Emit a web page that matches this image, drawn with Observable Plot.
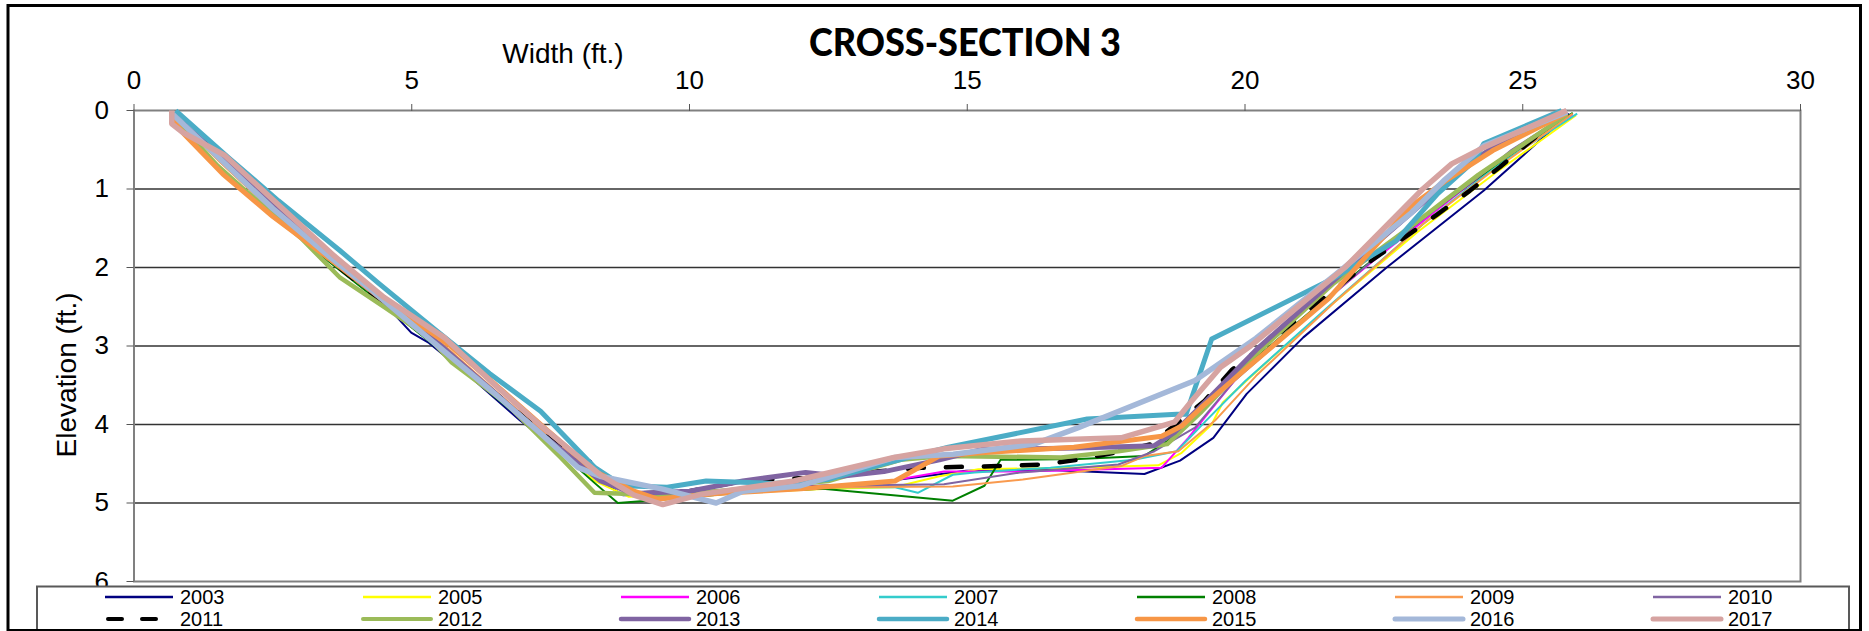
<!DOCTYPE html>
<html>
<head>
<meta charset="utf-8">
<script src="https://cdn.jsdelivr.net/npm/d3@7"></script>
<script src="https://cdn.jsdelivr.net/npm/@observablehq/plot@0.6"></script>
<style>
  html, body { margin: 0; padding: 0; background: #fff; }
  #chart { position: relative; width: 1869px; height: 631px; overflow: hidden; background: #fff; }
  #overlay { position: absolute; left: 0; top: 0; pointer-events: none; }
</style>
</head>
<body>
<div id="chart"></div>
<script>
// ---------------- DATA ----------------
const chartTitle = "CROSS-SECTION 3";
const xLabel = "Width (ft.)";
const yLabel = "Elevation (ft.)";
const xTicks = [0, 5, 10, 15, 20, 25, 30];
const yTicks = [0, 1, 2, 3, 4, 5, 6];
const gridY = [1, 2, 3, 4, 5];
const years = ["2003","2005","2006","2007","2008","2009","2010","2011","2012","2013","2014","2015","2016","2017"];

// [width ft, elevation ft] points per survey year
const s2003 = [[0.72,0.05],[1.6,0.62],[2.5,1.3],[3.4,1.85],[4.35,2.34],[4.99,2.83],[5.31,2.96],[6.1,3.42],[6.95,3.95],[7.6,4.3],[8.22,4.46],[8.4,4.72],[8.8,4.9],[10.0,4.88],[11.5,4.8],[13.13,4.76],[14.98,4.59],[16.5,4.58],[18.19,4.63],[18.83,4.46],[19.43,4.17],[20.03,3.61],[21.05,2.89],[22.55,2.0],[24.3,1.02],[25.2,0.45],[25.84,0.04]];
const s2005 = [[0.7,0.05],[1.65,0.62],[2.45,1.2],[3.6,1.95],[4.6,2.5],[5.55,3.02],[6.5,3.6],[7.3,4.1],[8.3,4.72],[8.9,4.92],[10.5,4.88],[12.5,4.82],[13.68,4.8],[14.5,4.66],[15.2,4.57],[17.0,4.55],[18.44,4.52],[18.86,4.36],[19.4,4.0],[19.6,3.72],[20.4,3.2],[21.6,2.45],[23.1,1.55],[24.5,0.8],[25.96,0.06]];
const s2006 = [[0.7,0.04],[1.6,0.6],[2.4,1.15],[3.5,1.9],[4.5,2.45],[5.5,3.0],[6.5,3.62],[7.3,4.1],[8.4,4.68],[9.0,4.9],[10.5,4.86],[12.5,4.78],[13.6,4.72],[14.58,4.6],[16.0,4.6],[18.5,4.55],[18.98,4.17],[19.81,3.44],[20.8,2.8],[22.3,1.92],[23.9,1.02],[25.0,0.45],[25.9,0.05]];
const s2007 = [[0.72,0.04],[1.62,0.6],[2.45,1.18],[3.55,1.9],[4.55,2.48],[5.5,3.0],[6.5,3.6],[7.3,4.08],[8.45,4.7],[9.2,4.9],[10.5,4.86],[12.5,4.8],[13.7,4.8],[14.11,4.87],[14.74,4.64],[15.13,4.61],[16.5,4.55],[18.0,4.45],[18.77,4.34],[19.3,3.95],[20.0,3.45],[21.5,2.5],[23.2,1.45],[24.5,0.72],[25.98,0.04]];
const s2008 = [[0.7,0.05],[1.6,0.62],[2.4,1.2],[3.5,1.92],[4.5,2.48],[5.45,3.02],[6.5,3.65],[7.3,4.12],[8.3,4.75],[8.71,5.0],[10.0,4.93],[11.0,4.86],[12.4,4.82],[14.74,4.97],[15.31,4.78],[15.6,4.45],[17.0,4.44],[18.19,4.4],[18.6,4.21],[19.3,3.72],[20.2,3.15],[21.7,2.25],[23.3,1.32],[24.6,0.65],[25.9,0.03]];
const s2009 = [[0.7,0.06],[1.55,0.66],[2.4,1.22],[3.5,1.9],[4.55,2.45],[5.6,3.0],[6.55,3.6],[7.35,4.08],[8.4,4.7],[9.3,4.92],[10.5,4.86],[12.5,4.8],[14.74,4.79],[16.0,4.7],[17.77,4.53],[18.2,4.4],[18.8,4.34],[19.46,3.95],[20.2,3.38],[21.6,2.45],[23.2,1.45],[24.4,0.8],[25.9,0.04]];
const s2010 = [[0.7,0.05],[1.6,0.63],[2.45,1.2],[3.5,1.9],[4.5,2.45],[5.5,3.0],[6.5,3.62],[7.3,4.1],[8.4,4.7],[9.2,4.92],[10.5,4.85],[12.5,4.78],[14.58,4.76],[15.97,4.61],[17.72,4.51],[18.37,4.34],[19.1,4.04],[19.8,3.45],[21.2,2.58],[22.8,1.6],[24.2,0.85],[24.8,0.5],[25.8,0.05]];
const s2011 = [[0.7,0.05],[1.6,0.63],[2.45,1.2],[3.55,1.92],[4.5,2.45],[5.5,3.0],[6.5,3.6],[7.3,4.08],[8.4,4.68],[9.0,4.88],[10.0,4.85],[10.96,4.72],[12.09,4.68],[13.0,4.62],[14.18,4.55],[15.55,4.53],[16.35,4.51],[16.99,4.45],[17.65,4.36],[18.32,4.25],[19.27,3.7],[19.77,3.3],[20.6,2.85],[22.2,1.95],[23.47,1.32],[24.05,1.02],[24.59,0.72],[25.09,0.42],[25.7,0.06]];
const s2012 = [[0.7,0.08],[1.5,0.7],[1.94,0.98],[3.0,1.62],[3.71,2.13],[4.5,2.5],[5.31,2.89],[5.72,3.21],[6.68,3.72],[7.68,4.42],[8.29,4.87],[8.69,4.88],[9.5,4.9],[11.0,4.82],[12.5,4.72],[13.8,4.45],[14.58,4.4],[16.69,4.42],[17.72,4.34],[18.6,4.25],[19.2,3.85],[20.2,3.1],[21.6,2.2],[22.96,1.49],[24.2,0.82],[25.8,0.05]];
const s2013 = [[0.7,0.05],[1.6,0.62],[2.5,1.2],[3.6,1.92],[4.45,2.4],[5.5,2.98],[6.5,3.6],[7.3,4.1],[8.4,4.72],[9.0,4.88],[10.0,4.85],[10.96,4.72],[12.09,4.61],[12.73,4.66],[13.5,4.6],[14.5,4.45],[15.25,4.32],[17.0,4.3],[18.37,4.27],[18.73,4.1],[19.3,3.7],[20.2,3.05],[21.7,2.1],[23.0,1.3],[23.9,0.75],[24.5,0.45],[25.8,0.02]];
const s2014 = [[0.75,0.0],[1.7,0.6],[2.6,1.15],[3.7,1.78],[4.4,2.2],[5.4,2.78],[6.4,3.35],[7.32,3.83],[8.3,4.55],[8.8,4.78],[9.6,4.8],[10.3,4.72],[11.5,4.75],[12.5,4.7],[13.5,4.5],[14.66,4.29],[17.16,3.93],[18.77,3.87],[18.94,3.87],[19.4,2.91],[21.56,2.15],[22.72,1.66],[23.47,1.06],[24.13,0.64],[24.3,0.42],[25.7,0.0]];
const s2015 = [[0.68,0.1],[0.9,0.3],[1.6,0.81],[2.5,1.35],[3.5,1.88],[4.5,2.42],[5.7,3.0],[6.6,3.55],[7.4,4.05],[8.3,4.6],[9.0,4.85],[9.43,4.95],[10.5,4.88],[12.0,4.82],[13.7,4.72],[14.5,4.4],[15.25,4.36],[16.92,4.29],[18.5,4.15],[18.86,4.02],[19.22,3.78],[20.0,3.3],[21.5,2.4],[22.97,1.23],[23.6,0.9],[24.46,0.51],[25.8,0.03]];
const s2016 = [[0.7,0.05],[1.6,0.65],[2.5,1.25],[3.5,1.85],[4.3,2.3],[5.3,2.9],[6.4,3.55],[7.3,4.1],[8.0,4.55],[8.39,4.66],[9.5,4.82],[10.48,5.0],[10.96,4.85],[12.0,4.78],[13.7,4.42],[14.75,4.38],[16.2,4.25],[17.0,4.04],[19.1,3.44],[20.2,2.9],[21.7,2.05],[23.0,1.3],[23.6,0.88],[24.3,0.45],[25.8,0.02]];
const s2017 = [[0.68,0.0],[0.68,0.17],[0.88,0.28],[1.63,0.57],[2.6,1.2],[3.6,1.85],[4.5,2.38],[5.6,2.9],[6.5,3.5],[7.3,4.0],[8.39,4.64],[9.0,4.9],[9.52,5.02],[10.2,4.89],[11.88,4.72],[13.68,4.42],[14.58,4.31],[15.97,4.21],[17.77,4.17],[18.73,3.97],[19.04,3.7],[19.56,3.27],[20.1,3.0],[21.8,2.0],[23.2,1.0],[23.72,0.68],[24.3,0.47],[25.79,0.0]];

const seriesValues = [s2003,s2005,s2006,s2007,s2008,s2009,s2010,s2011,s2012,s2013,s2014,s2015,s2016,s2017];

// ---------------- STYLES ----------------
const colors = ["#000080","#FFFF00","#FF00FF","#33CCCC","#008000","#F99A4E","#8064A2","#000000","#9BBB59","#8064A2","#4BACC6","#F79646","#A4B8D9","#D6A3A1"];
const widths = [2,2,2,2,2,2,2,4.5,4.5,5,5,5,5.5,5.5];
const dashes = [null,null,null,null,null,null,null,"16,22",null,null,null,null,null,null];

// ---------------- LAYOUT ----------------
const W = 1869, H = 631;
const mLeft = 133.5, mRight = 69, mTop = 110, mBottom = 50;
const font = "'Liberation Sans', Arial, sans-serif";

const lineMarks = years.map((yr, i) => Plot.line(seriesValues[i], {
  x: d => d[0], y: d => d[1],
  stroke: colors[i], strokeWidth: widths[i],
  strokeDasharray: dashes[i] || undefined,
  strokeLinecap: dashes[i] ? "round" : "butt",
  strokeLinejoin: "round"
}));

const plot = Plot.plot({
  width: W, height: H,
  marginLeft: mLeft, marginRight: mRight, marginTop: mTop, marginBottom: mBottom,
  x: {domain: [0, 30]},
  y: {domain: [0, 6], reverse: true},
  style: {fontFamily: font, fontSize: "26px", color: "black", background: "white", overflow: "visible"},
  marks: [
    Plot.ruleY(gridY, {stroke: "#333", strokeWidth: 1.3}),
    Plot.frame({stroke: "#808080", strokeWidth: 2}),
    Plot.axisX(xTicks, {anchor: "top", tickSize: 7, tickPadding: 15, label: null, stroke: "#555",
      fontSize: 26, tickFormat: d3.format("d")}),
    Plot.axisY(yTicks, {anchor: "left", tickSize: 7, tickPadding: 18, label: null, stroke: "#555",
      fontSize: 26, tickFormat: d3.format("d")}),
    ...lineMarks
  ]
});
document.getElementById("chart").appendChild(plot);

// ---------------- OVERLAY: title, axis labels, legend, frame ----------------
const svg = d3.select("#chart").append("svg")
  .attr("id", "overlay").attr("width", W).attr("height", H);

svg.append("text").text(chartTitle)
  .attr("x", 965).attr("y", 56).attr("text-anchor", "middle")
  .attr("font-family", "Lato, 'Open Sans', sans-serif").attr("font-weight", 900)
  .attr("font-size", 38).attr("textLength", 312).attr("lengthAdjust", "spacingAndGlyphs")
  .attr("fill", "#000");

svg.append("text").text(xLabel)
  .attr("x", 563).attr("y", 63).attr("text-anchor", "middle")
  .attr("font-family", font).attr("font-size", 28).attr("fill", "#000");

svg.append("text").text(yLabel)
  .attr("transform", "translate(76,375) rotate(-90)").attr("text-anchor", "middle")
  .attr("font-family", font).attr("font-size", 28).attr("fill", "#000");

// legend
svg.append("rect").attr("x", 37).attr("y", 586.5).attr("width", 1812).attr("height", 60)
  .attr("fill", "#fff").attr("stroke", "#595959").attr("stroke-width", 2);
const colStart = 105, colStep = 258, rowY = [597, 619];
years.forEach((yr, i) => {
  const col = i % 7, row = Math.floor(i / 7);
  const x0 = colStart + col * colStep, y0 = rowY[row];
  const g = svg.append("g");
  g.append("line").attr("x1", x0 + (dashes[i] ? 3 : 0)).attr("x2", x0 + 68).attr("y1", y0).attr("y2", y0)
    .attr("stroke", colors[i]).attr("stroke-width", Math.max(widths[i] - 0.5, 2.5))
    .attr("stroke-dasharray", dashes[i] ? "14,20" : null)
    .attr("stroke-linecap", i >= 7 ? "round" : "butt");
  g.append("text").text(yr).attr("x", x0 + 75).attr("y", y0).attr("dy", "0.35em")
    .attr("font-family", font).attr("font-size", 20).attr("fill", "#000");
});

// outer frame
svg.append("rect").attr("x", 8).attr("y", 5.5).attr("width", 1852.5).attr("height", 625)
  .attr("fill", "none").attr("stroke", "#000").attr("stroke-width", 3);
</script>
</body>
</html>
